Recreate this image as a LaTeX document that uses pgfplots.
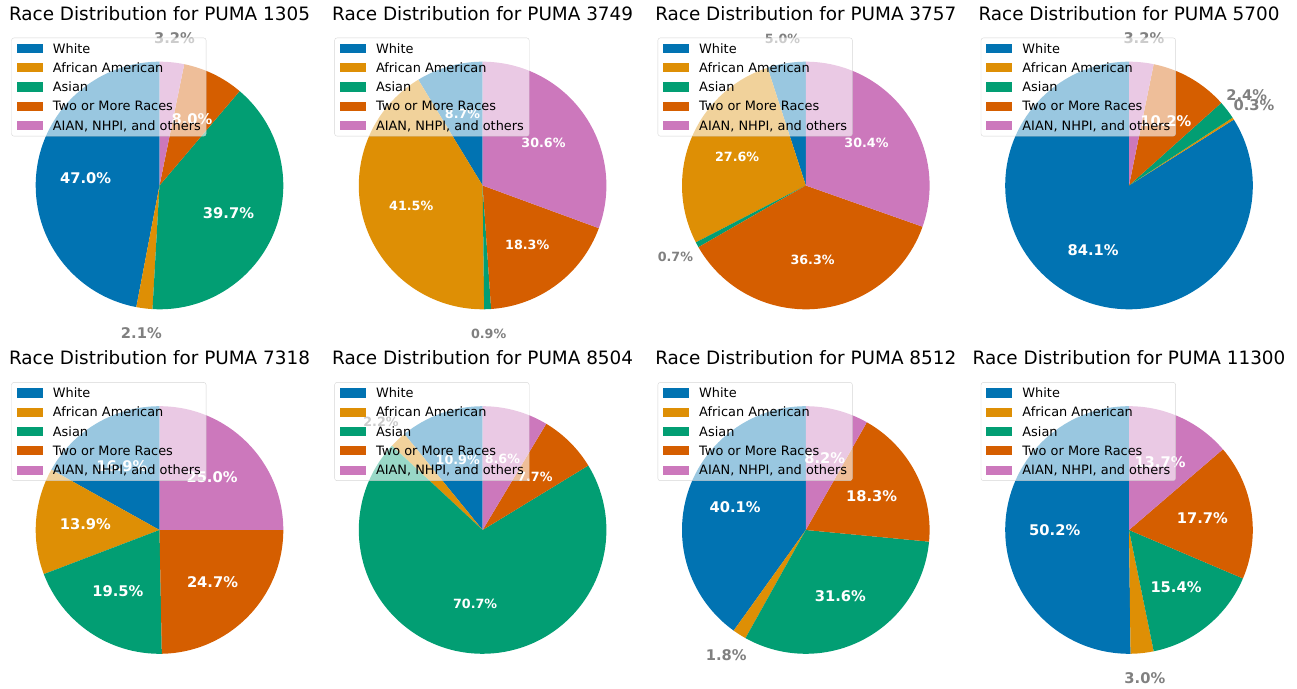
\documentclass[border=0pt]{standalone}
\usepackage{pgfplots}
\pgfplotsset{compat=1.18}
\usepackage{pgfplotstable}
\usepackage{fontspec}
\setmainfont{DejaVu Sans}

\definecolor{cW}{HTML}{0173B2}
\definecolor{cAA}{HTML}{DE8F05}
\definecolor{cAs}{HTML}{029E73}
\definecolor{cTwo}{HTML}{D55E00}
\definecolor{cAI}{HTML}{CC78BC}
\definecolor{lblgray}{HTML}{808080}

% percentages of each race group per PUMA
\pgfplotstableread{
group           p1305 p3749 p3757 p5700 p7318 p8504 p8512 p11300
White           47.0  8.7   5.0   84.1  16.9  10.9  40.1  50.2
AfricanAmerican 2.1   41.5  27.6  0.3   13.9  2.2   1.8   3.0
Asian           39.7  0.9   0.7   2.4   19.5  70.7  31.6  15.4
TwoOrMore       8.0   18.3  36.3  10.2  24.7  7.7   18.3  17.7
AIANNHPI        3.2   30.6  30.4  3.2   25.0  8.6   8.2   13.7
}\racedata

\def\R{123.8}

\newcommand\drawpie[2]{%
  \gdef\tot{0}%
  \foreach \i in {0,...,4}{%
    \pgfplotstablegetelem{\i}{#1}\of\racedata
    \pgfmathparse{\tot+\pgfplotsretval}\xdef\tot{\pgfmathresult}}%
  % wedges
  \gdef\cum{0}%
  \foreach \i/\clr in {0/cW,1/cAA,2/cAs,3/cTwo,4/cAI}{%
    \pgfplotstablegetelem{\i}{#1}\of\racedata
    \let\val\pgfplotsretval
    \pgfmathsetmacro\sa{90+360*(\cum/\tot)}%
    \pgfmathparse{\cum+\val}\xdef\cum{\pgfmathresult}%
    \pgfmathsetmacro\sb{90+360*(\cum/\tot)}%
    \fill[\clr] (axis cs:0,0) -- (axis cs:{cos(\sa)},{sin(\sa)}) arc[start angle=\sa, end angle=\sb, radius=\R pt] -- cycle;
  }%
  % labels
  \gdef\cum{0}%
  \foreach \i in {0,...,4}{%
    \pgfplotstablegetelem{\i}{#1}\of\racedata
    \let\val\pgfplotsretval
    \pgfmathsetmacro\sa{90+360*(\cum/\tot)}%
    \pgfmathparse{\cum+\val}\xdef\cum{\pgfmathresult}%
    \pgfmathsetmacro\sb{90+360*(\cum/\tot)}%
    \pgfmathsetmacro\sm{(\sa+\sb)/2}%
    \ifdim\val pt<6pt
      \node[text=lblgray, font=\bfseries\fontsize{#2}{#2}\selectfont] at (axis cs:{1.2*cos(\sm)},{1.2*sin(\sm)}) {\val\%};
    \else
      \node[text=white, font=\bfseries\fontsize{#2}{#2}\selectfont] at (axis cs:{0.6*cos(\sm)},{0.6*sin(\sm)}) {\val\%};
    \fi
  }%
}

\pgfplotsset{
  pieaxis/.style={
    hide axis, clip=false,
    x=\R pt, y=\R pt,
    xmin=-1.4, xmax=1.4, ymin=-1.4, ymax=1.4,
    anchor=center,
    title style={at={(axis description cs:0.5,0.96)}, anchor=base, inner sep=0pt,
      font=\fontsize{18.4}{22}\selectfont},
    legend cell align=left,
    legend style={at={(axis description cs:0.0725,0.9264)}, anchor=north west,
      draw=black!20, fill=white, fill opacity=0.6, draw opacity=0.8, text opacity=1,
      rounded corners=2.5pt, inner xsep=5.3pt, inner ysep=4.3pt,
      column sep=10.3pt, row sep=6.8pt,
      nodes={inner sep=0pt, text height=10.9pt, text depth=1.6pt},
      font=\fontsize{12.9}{15}\selectfont},
    legend image code/.code={\fill[##1, fill opacity=1, draw=none, sharp corners] (0pt,-4.6pt) rectangle (25.8pt,4.6pt);},
  }
}

\newcommand\raceleg{%
  \addlegendimage{fill=cW}\addlegendentry{White}
  \addlegendimage{fill=cAA}\addlegendentry{African American}
  \addlegendimage{fill=cAs}\addlegendentry{Asian}
  \addlegendimage{fill=cTwo}\addlegendentry{Two or More Races}
  \addlegendimage{fill=cAI}\addlegendentry{AIAN, NHPI, and others}
}

\begin{document}
\begin{tikzpicture}
\useasboundingbox (0,0) rectangle (1297pt,688pt);

\begin{axis}[pieaxis, at={(159.5pt,502.5pt)}, title={Race Distribution for PUMA 1305}]
\raceleg
\pgfplotsextra{\drawpie{p1305}{14.7}}
\end{axis}

\begin{axis}[pieaxis, at={(482.6pt,502.5pt)}, title={Race Distribution for PUMA 3749}]
\raceleg
\pgfplotsextra{\drawpie{p3749}{12.7}}
\end{axis}

\begin{axis}[pieaxis, at={(805.8pt,502.5pt)}, title={Race Distribution for PUMA 3757}]
\raceleg
\pgfplotsextra{\drawpie{p3757}{12.7}}
\end{axis}

\begin{axis}[pieaxis, at={(1129.0pt,502.5pt)}, title={Race Distribution for PUMA 5700}]
\raceleg
\pgfplotsextra{\drawpie{p5700}{14.7}}
\end{axis}

\begin{axis}[pieaxis, at={(159.5pt,158pt)}, title={Race Distribution for PUMA 7318}]
\raceleg
\pgfplotsextra{\drawpie{p7318}{14.7}}
\end{axis}

\begin{axis}[pieaxis, at={(482.6pt,158pt)}, title={Race Distribution for PUMA 8504}]
\raceleg
\pgfplotsextra{\drawpie{p8504}{12.7}}
\end{axis}

\begin{axis}[pieaxis, at={(805.8pt,158pt)}, title={Race Distribution for PUMA 8512}]
\raceleg
\pgfplotsextra{\drawpie{p8512}{14.7}}
\end{axis}

\begin{axis}[pieaxis, at={(1129.0pt,158pt)}, title={Race Distribution for PUMA 11300}]
\raceleg
\pgfplotsextra{\drawpie{p11300}{14.7}}
\end{axis}

\end{tikzpicture}
\end{document}
